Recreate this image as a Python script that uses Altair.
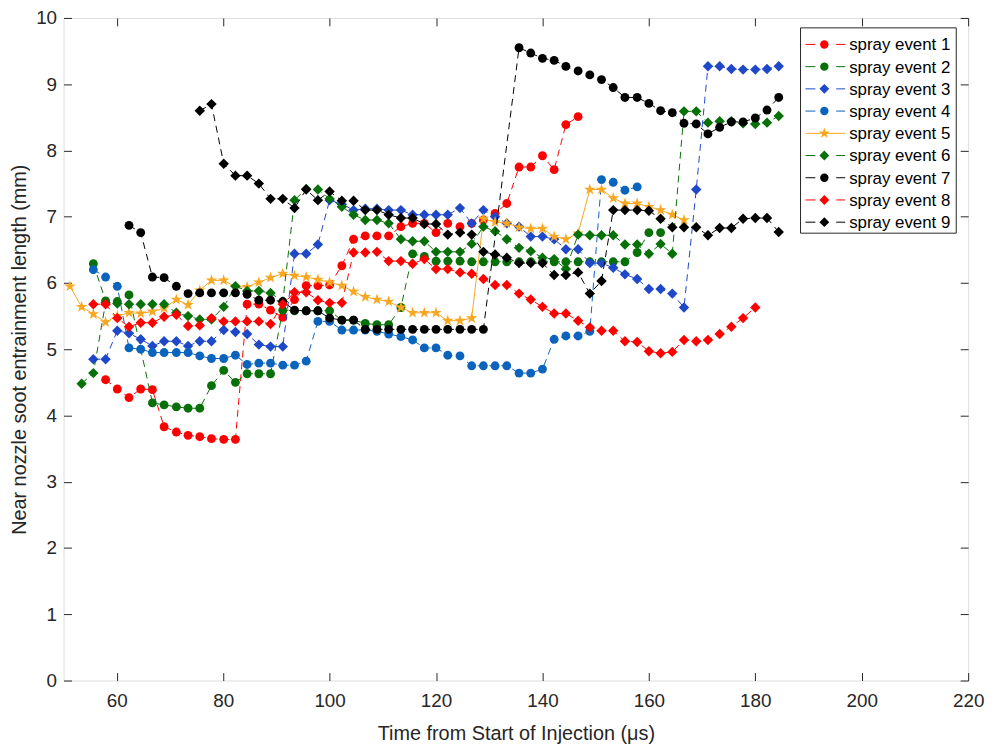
import pandas as pd
import altair as alt

# ---------------- data ----------------
# common frame times (microseconds) of the image sequence
TIME = [51.2, 53.4, 55.6, 57.9, 60.1, 62.3, 64.5, 66.7, 68.9, 71.2,
        73.4, 75.6, 77.8, 80.1, 82.3, 84.5, 86.7, 88.9, 91.2, 93.4,
        95.6, 97.8, 100.0, 102.3, 104.5, 106.7, 108.9, 111.1, 113.4, 115.6,
        117.8, 120.0, 122.2, 124.5, 126.7, 128.9, 131.1, 133.3, 135.6, 137.8,
        140.0, 142.2, 144.4, 146.7, 148.9, 151.1, 153.3, 155.5, 157.8, 160.0,
        162.2, 164.4, 166.6, 168.9, 171.1, 173.3, 175.5, 177.7, 180.0, 182.2,
        184.4]

NAMES = ["spray event 1", "spray event 2", "spray event 3", "spray event 4",
         "spray event 5", "spray event 6", "spray event 7", "spray event 8",
         "spray event 9"]

# index into TIME of the first value of each series
STARTS = [3, 2, 2, 2, 0, 1, 5, 2, 11]

S1 = [4.54, 4.40, 4.27, 4.40, 4.39, 3.83, 3.75, 3.70, 3.68, 3.65, 3.64, 3.64,
      5.68, 5.68, 5.59, 5.48, 5.75, 5.96, 5.96, 5.97, 6.26, 6.66, 6.71, 6.71,
      6.71, 6.85, 6.90, 6.90, 6.76, 6.90, 6.85, 6.90, 6.95, 7.05, 7.20, 7.75,
      7.75, 7.92, 7.71, 8.39, 8.51]
S2 = [6.29, 5.73, 5.72, 5.82, None, 4.19, 4.16, 4.13, 4.11, 4.11, 4.45, 4.68,
      4.50, 4.63, 4.63, 4.63, 5.59, 5.58, 5.58, 5.58, 5.58, 5.44, 5.44, 5.39,
      5.37, 5.37, 5.63, 6.44, 6.40, 6.33, 6.33, 6.33, 6.32, 6.32, 6.32, 6.32,
      6.32, 6.32, 6.32, 6.32, 6.32, 6.32, 6.32, 6.32, 6.32, 6.32, 6.46, 6.76,
      6.76]
S3 = [4.85, 4.85, 5.28, 5.24, 5.15, 5.05, 5.12, 5.12, 5.05, 5.12, 5.12, 5.29,
      5.26, 5.23, 5.07, 5.04, 5.04, 6.44, 6.44, 6.58, 7.25, 7.19, 7.10, 7.12,
      7.12, 7.10, 7.10, 7.03, 7.03, 7.03, 7.03, 7.13, 6.90, 7.10, 7.00, 6.90,
      6.85, 6.70, 6.70, 6.66, 6.51, 6.51, 6.30, 6.30, 6.23, 6.13, 6.06, 5.91,
      5.91, 5.84, 5.63, 7.41, 9.27, 9.27, 9.23, 9.22, 9.22, 9.23, 9.27]
S4 = [6.20, 6.09, 5.95, 5.02, 5.00, 4.95, 4.95, 4.95, 4.95, 4.90, 4.86, 4.86,
      4.91, 4.77, 4.79, 4.79, 4.76, 4.76, 4.82, 5.42, 5.42, 5.29, 5.29, 5.29,
      5.27, 5.23, 5.19, 5.14, 5.02, 5.02, 4.91, 4.90, 4.75, 4.75, 4.75, 4.75,
      4.64, 4.64, 4.70, 5.15, 5.20, 5.20, 5.27, 7.56, 7.52, 7.40, 7.45]
S5 = [5.95, 5.64, 5.53, 5.41, 5.50, 5.55, 5.54, 5.57, 5.62, 5.75, 5.67, 5.89,
      6.04, 6.04, 5.94, 5.94, 6.01, 6.08, 6.14, 6.11, 6.09, 6.05, 6.01, 5.96,
      5.87, 5.79, 5.75, 5.72, 5.63, 5.55, 5.55, 5.55, 5.43, 5.43, 5.47, 6.97,
      6.92, 6.90, 6.84, 6.82, 6.82, 6.70, 6.66, 6.75, 7.41, 7.41, 7.28, 7.20,
      7.20, 7.15, 7.10, 7.03, 6.95]
S6 = [4.48, 4.64, 5.70, 5.69, 5.68, 5.68, 5.68, 5.68, 5.55, 5.50, 5.45, 5.45,
      5.64, 5.95, 5.88, 5.88, 5.85, 5.72, 7.25, 7.42, 7.41, 7.27, 7.15, 7.03,
      6.95, 6.95, 6.90, 6.66, 6.63, 6.63, 6.47, 6.47, 6.47, 6.59, 6.85, 6.78,
      6.66, 6.53, 6.48, 6.38, 6.36, 6.21, 6.73, 6.72, 6.72, 6.72, 6.58, 6.58,
      6.44, 6.59, 6.44, 8.59, 8.59, 8.42, 8.44, 8.44, 8.41, 8.40, 8.42, 8.52]
S7 = [6.87, 6.76, 6.09, 6.08, 5.95, 5.84, 5.85, 5.85, 5.85, 5.85, 5.83, 5.74,
      5.74, 5.72, 5.59, 5.58, 5.58, 5.47, 5.44, 5.44, 5.30, 5.30, 5.30, 5.30,
      5.30, 5.30, 5.30, 5.30, 5.30, 5.30, 5.30, None, None, 9.55, 9.47, 9.39,
      9.36, 9.27, 9.20, 9.14, 9.07, 8.95, 8.80, 8.80, 8.71, 8.60, 8.57, 8.41,
      8.40, 8.25, 8.35, 8.43, 8.43, 8.49, 8.61, 8.80]
S8 = [5.68, 5.68, 5.47, 5.34, 5.40, 5.40, 5.49, 5.52, 5.35, 5.36, 5.47, 5.42,
      5.42, 5.42, 5.42, 5.38, 5.68, 5.86, 5.86, 5.74, 5.70, 5.70, 6.46, 6.46,
      6.47, 6.33, 6.33, 6.29, 6.36, 6.21, 6.21, 6.16, 6.14, 6.06, 5.97, 5.97,
      5.84, 5.75, 5.64, 5.54, 5.54, 5.43, 5.33, 5.28, 5.28, 5.12, 5.11, 4.97,
      4.94, 4.96, 5.14, 5.12, 5.14, 5.23, 5.34, 5.47, 5.63]
S9 = [8.60, 8.70, 7.80, 7.62, 7.62, 7.50, 7.27, 7.27, 7.13, 7.41, 7.25, 7.38,
      7.24, 7.24, 7.10, 7.10, 7.03, 6.98, 6.98, 6.89, 6.89, 6.73, 6.76, 6.73,
      6.47, 6.43, 6.38, 6.30, 6.30, 6.30, 6.12, 6.12, 6.16, 5.84, 6.03, 7.10,
      7.10, 7.10, 7.09, 6.97, 6.84, 6.84, 6.84, 6.72, 6.83, 6.83, 6.97, 6.98,
      6.98, 6.77]
VALUES = [S1, S2, S3, S4, S5, S6, S7, S8, S9]

X_TICKS = [60, 80, 100, 120, 140, 160, 180, 200, 220]
Y_TICKS = [0, 1, 2, 3, 4, 5, 6, 7, 8, 9, 10]

# ---------------- styles ----------------
GREEN = "#087008"
COLORS = ["#FF0000", GREEN, "#1E48C8", "#0A64BE", "#F9A620", GREEN,
          "#000000", "#FF0000", "#000000"]
STAR = ("M0,-1L0.2245,-0.309L0.9511,-0.309L0.3633,0.118L0.5878,0.809"
        "L0,0.382L-0.5878,0.809L-0.3633,0.118L-0.9511,-0.309L-0.2245,-0.309Z")
SHAPES = ["circle", "circle", "diamond", "circle", STAR, "diamond",
          "circle", "diamond", "diamond"]
SIZES = [80, 80, 110, 80, 150, 110, 80, 110, 110]
DASHED = [True, True, True, True, False, True, True, True, True]

W, H = 912, 668
FONT = "Liberation Sans"
AX = "#262626"

rows = []
for name, start, vals in zip(NAMES, STARTS, VALUES):
    for i, v in enumerate(vals):
        if v is not None:
            rows.append({"t": TIME[start + i], "v": v, "s": name})
df = pd.DataFrame(rows)

xscale = alt.Scale(domain=[50, 220], nice=False, zero=False)
yscale = alt.Scale(domain=[0, 10], nice=False, zero=False)

x_enc = alt.X("t:Q", scale=xscale, axis=alt.Axis(
    values=X_TICKS, title="Time from Start of Injection (\u03bcs)",
    domain=False, ticks=False, tickSize=0, grid=False, labelFlush=False,
    labelPadding=11, labelFontSize=19, titleFontSize=20, titlePadding=13,
    labelColor=AX, titleColor=AX, titleFontWeight="normal"))
y_enc = alt.Y("v:Q", scale=yscale, axis=alt.Axis(
    values=Y_TICKS, title="Near nozzle soot entrainment length (mm)",
    domain=False, ticks=False, tickSize=0, grid=False, labelFlush=False,
    labelPadding=7, labelFontSize=19, titleFontSize=20, titlePadding=6,
    labelColor=AX, titleColor=AX, titleFontWeight="normal"))

data_layers = []
for name, col, shp, sz, dsh in zip(NAMES, COLORS, SHAPES, SIZES, DASHED):
    base = alt.Chart(df).transform_filter(alt.datum.s == name)
    if dsh:
        line = base.mark_line(color=col, strokeWidth=1, strokeDash=[7, 5])
    else:
        line = base.mark_line(color=col, strokeWidth=1)
    line = line.encode(x=x_enc, y=y_enc)
    pts = base.mark_point(shape=shp, filled=True, size=sz, color=col,
                          opacity=1).encode(x=x_enc, y=y_enc)
    data_layers += [line, pts]
data_layer = alt.layer(*data_layers)

# inward-pointing ticks on all four sides
tick_df = pd.DataFrame({"t": [60], "v": [1]})


def tick_layer(xorient, yorient):
    return alt.Chart(tick_df).mark_point(opacity=0).encode(
        x=alt.X("t:Q", scale=xscale, axis=alt.Axis(
            orient=xorient, offset=-H, values=X_TICKS, labels=False,
            domain=False, ticks=True, tickSize=8, tickColor=AX, grid=False,
            title="")),
        y=alt.Y("v:Q", scale=yscale, axis=alt.Axis(
            orient=yorient, offset=-W, values=Y_TICKS, labels=False,
            domain=False, ticks=True, tickSize=8, tickColor=AX, grid=False,
            title="")),
    )


tickA = tick_layer("top", "right")
tickB = tick_layer("bottom", "left")

# legend (MATLAB style, top-right inside the axes)
one = pd.DataFrame({"k": [0]})
LX0, LX1, LY0, LY1 = 743, 900, 10, 217
legend_layers = [
    alt.Chart(one).mark_rect(fill="white", stroke=AX, strokeWidth=1).encode(
        x=alt.value(LX0), x2=alt.value(LX1), y=alt.value(LY0), y2=alt.value(LY1))
]
for i, (name, col, shp, sz, dsh) in enumerate(zip(NAMES, COLORS, SHAPES, SIZES, DASHED)):
    yy = 26.7 + 22.4 * i
    if dsh:
        rl = alt.Chart(one).mark_rule(color=col, strokeWidth=1, strokeDash=[10, 21])
    else:
        rl = alt.Chart(one).mark_rule(color=col, strokeWidth=1)
    legend_layers.append(rl.encode(x=alt.value(748), x2=alt.value(788), y=alt.value(yy)))
    legend_layers.append(
        alt.Chart(one).mark_point(shape=shp, filled=True, size=sz * 0.9, color=col,
                                  opacity=1).encode(x=alt.value(767), y=alt.value(yy)))
    legend_layers.append(
        alt.Chart(one).mark_text(align="left", baseline="middle", fontSize=17,
                                 font=FONT, color="#000000").encode(
            x=alt.value(792), y=alt.value(yy + 1), text=alt.value(name)))

chart = alt.layer(data_layer, tickA, tickB, *legend_layers).resolve_axis(
    x="independent", y="independent"
).properties(
    width=W, height=H,
    padding={"left": 56, "top": 7, "right": 19, "bottom": 65},
    autosize=alt.AutoSizeParams(type="none"),
).configure_view(
    stroke=AX, strokeWidth=1
).configure_axis(
    labelFont=FONT, titleFont=FONT
).configure(background="white")

chart.save("out.html", embed_options={"renderer": "svg", "actions": False})
